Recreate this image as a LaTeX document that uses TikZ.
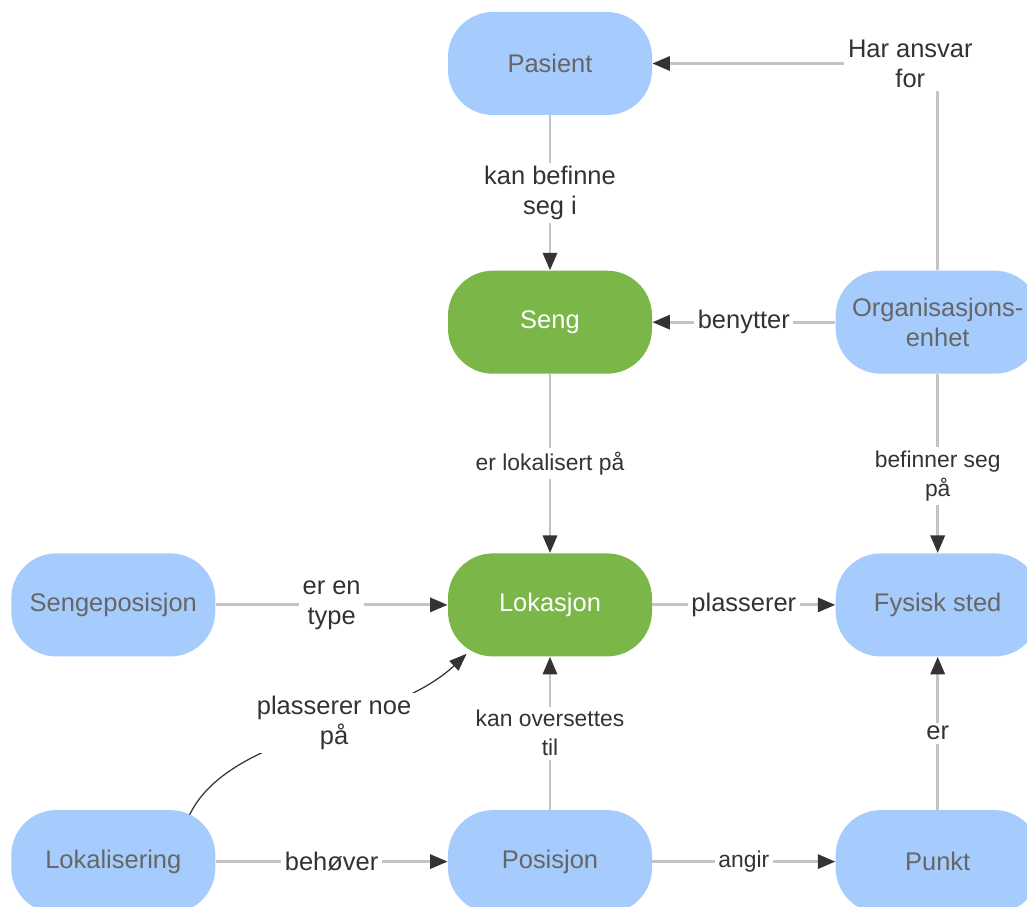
\documentclass[tikz,border=0pt]{standalone}
\usepackage{fontspec}
\setmainfont{Liberation Sans}
\usetikzlibrary{positioning, arrows.meta}
\definecolor{lightblue}{HTML}{A6CCFE}
\definecolor{leafgreen}{HTML}{7AB648}
\definecolor{linegray}{HTML}{C4C4C4}
\definecolor{tipgray}{HTML}{333333}
\definecolor{textgray}{HTML}{666666}
\tikzstyle{entitybox}=[rectangle, rounded corners=0.9cm, minimum width=4.08cm,
minimum height=2.06cm, fill=lightblue, text=textgray, align=center,
font=\fontsize{14.5}{17}\selectfont]
\tikzstyle{corebox}=[entitybox, fill=leafgreen, text=white]
\tikzstyle{edgelabel}=[fill=white, text=tipgray, align=center, inner sep=2pt,
font=\fontsize{14.5}{17}\selectfont]
\tikzstyle{smalllabel}=[edgelabel, font=\fontsize{13}{16.5}\selectfont]
\tikzstyle{edgepath}=[draw=linegray, line width=1.7pt,
-{Triangle[length=10pt, width=8pt, color=tipgray]}]
\tikzstyle{curvepath}=[draw=tipgray, line width=0.7pt,
-{Triangle[length=10pt, width=7.5pt, color=tipgray]}]

\begin{document}
\begin{tikzpicture}
        \useasboundingbox (0,0) rectangle (20.54,-18.14);
        \fill[white] (0,0) rectangle (20.54,-18.14);

        \node[entitybox] (pasient) at (11.0,-1.27) {Pasient};
        \node[corebox, below=3.1cm of pasient] (seng) {Seng};
        \node[corebox, below=3.58cm of seng] (lokasjon) {Lokasjon};
        \node[entitybox, below=3.06cm of lokasjon] (posisjon) {Posisjon};

        \node[entitybox, left=4.64cm of lokasjon] (sengepos) {Sengeposisjon};
        \node[entitybox, left=4.64cm of posisjon] (lokalisering) {Lokalisering};

        \node[entitybox, right=3.66cm of seng] (orgenhet) {Organisasjons-\\enhet};
        \node[entitybox, right=3.66cm of lokasjon] (fysisk) {Fysisk sted};
        \node[entitybox, right=3.66cm of posisjon] (punkt) {Punkt};

        \path[edgepath]
            (pasient) edge node[edgelabel] {kan befinne\\seg i} (seng)
            (seng) edge node[smalllabel] {er lokalisert på} (lokasjon)
            (orgenhet) edge node[edgelabel] {benytter} (seng)
            (orgenhet) edge node[smalllabel, pos=0.57] {befinner seg\\på} (fysisk)
            (sengepos) edge node[edgelabel] {er en\\type} (lokasjon)
            (lokasjon) edge node[edgelabel] {plasserer} (fysisk)
            (lokalisering) edge node[edgelabel] {behøver} (posisjon)
            (posisjon) edge node[smalllabel] {kan oversettes\\til} (lokasjon)
            (posisjon) edge node[smalllabel] {angir} (punkt)
            (punkt) edge node[edgelabel] {er} (fysisk);

        \draw[edgepath]
            (orgenhet) |- node[edgelabel, pos=0.548] {Har ansvar\\for} (pasient);
        \draw[curvepath]
            ([xshift=-0.52cm, yshift=-0.1cm]lokalisering.north east)
            .. controls +(0.8,1.66) and +(-1.54,-1.46) ..
            ([xshift=0.38cm, yshift=0.06cm]lokasjon.south west)
            node[edgelabel, pos=0.56] {plasserer noe\\på};
    \end{tikzpicture}
\end{document}
